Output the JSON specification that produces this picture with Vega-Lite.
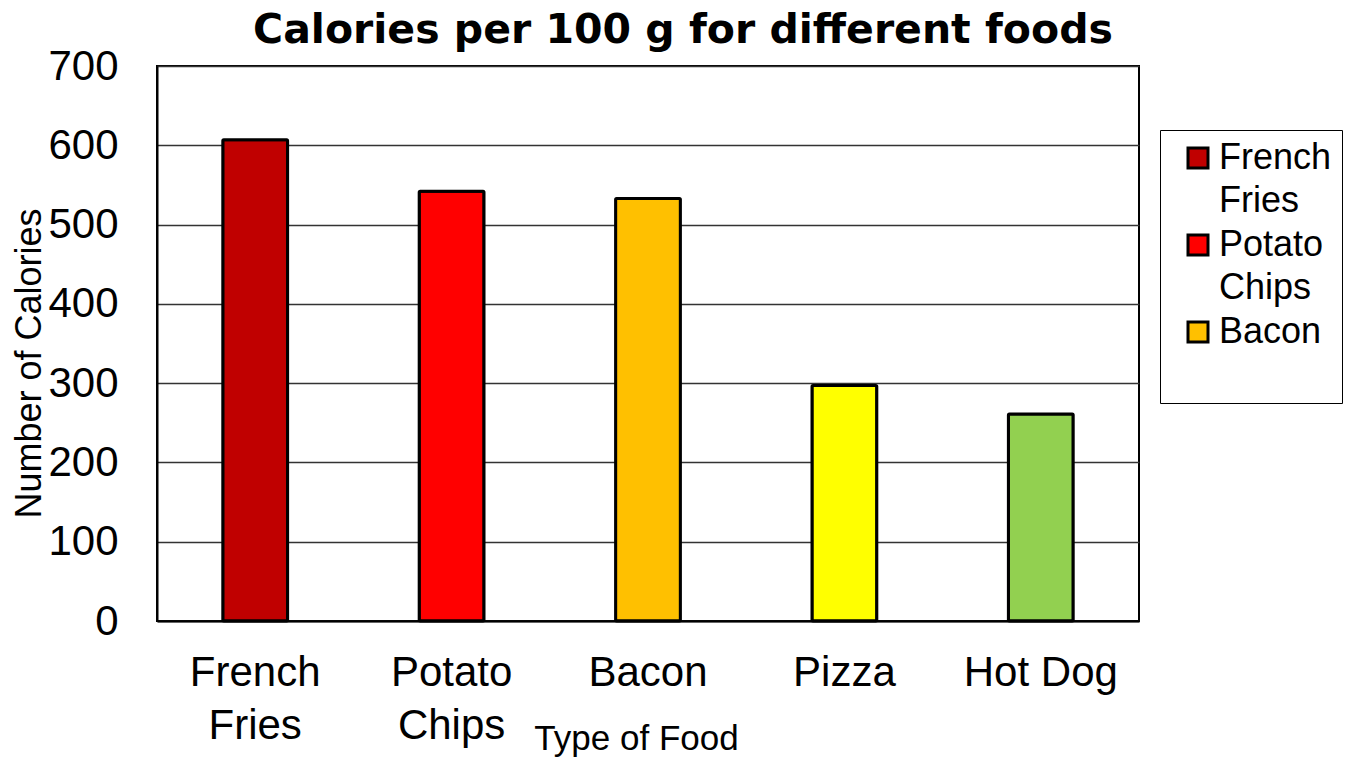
{
  "$schema": "https://vega.github.io/schema/vega-lite/v6.json",
  "autosize": "none",
  "width": 982,
  "height": 555,
  "padding": {"left": 157, "top": 66, "right": 222, "bottom": 136},
  "background": "white",
  "title": {
    "text": "Calories per 100 g for different foods",
    "font": "DejaVu Sans",
    "fontWeight": "bold",
    "fontSize": 41,
    "color": "black",
    "anchor": "middle",
    "baseline": "alphabetic",
    "offset": 0,
    "dy": 39,
    "dx": 35
  },
  "data": {
    "values": [
      {"food": "French Fries", "calories": 607},
      {"food": "Potato Chips", "calories": 542},
      {"food": "Bacon", "calories": 533},
      {"food": "Pizza", "calories": 297},
      {"food": "Hot Dog", "calories": 261}
    ]
  },
  "mark": {"type": "bar", "stroke": "black", "strokeWidth": 3, "cornerRadius": 1},
  "encoding": {
    "x": {
      "field": "food",
      "type": "nominal",
      "sort": null,
      "scale": {"paddingInner": 0.67, "paddingOuter": 0.335},
      "axis": {
        "title": "Type of Food",
        "titleFont": "Liberation Sans",
        "titleFontWeight": "normal",
        "titleFontSize": 35,
        "titleColor": "black",
        "titleX": 479,
        "titleY": 117,
        "titleAlign": "center",
        "titleBaseline": "middle",
        "labelFont": "Liberation Sans",
        "labelFontSize": 42,
        "labelColor": "black",
        "labelAngle": 0,
        "labelPadding": 31,
        "labelLineHeight": 53,
        "labelExpr": "datum.label == 'Hot Dog' ? datum.label : split(datum.label, ' ')",
        "ticks": false,
        "domainColor": "black",
        "domainWidth": 2
      }
    },
    "y": {
      "field": "calories",
      "type": "quantitative",
      "scale": {"domain": [0, 700]},
      "axis": {
        "title": "Number of Calories",
        "titleFont": "Liberation Sans",
        "titleFontWeight": "normal",
        "titleFontSize": 36,
        "titleColor": "black",
        "titleAngle": -90,
        "titleX": -128,
        "titleY": 297,
        "titleAlign": "center",
        "titleBaseline": "middle",
        "values": [0, 100, 200, 300, 400, 500, 600, 700],
        "labelFont": "Liberation Sans",
        "labelFontSize": 42,
        "labelColor": "black",
        "labelPadding": 39,
        "ticks": false,
        "grid": true,
        "gridColor": "#333333",
        "gridWidth": 1.5,
        "domainColor": "black",
        "domainWidth": 2
      }
    },
    "fill": {
      "field": "food",
      "type": "nominal",
      "sort": null,
      "scale": {
        "domain": ["French Fries", "Potato Chips", "Bacon", "Pizza", "Hot Dog"],
        "range": ["#C00000", "#FF0000", "#FFC000", "#FFFF00", "#92D050"]
      },
      "legend": {
        "title": null,
        "values": ["French Fries", "Potato Chips", "Bacon"],
        "orient": "none",
        "legendX": 1003,
        "legendY": 64,
        "padding": 10,
        "strokeColor": "black",
        "fillColor": "white",
        "symbolType": "square",
        "symbolSize": 400,
        "symbolOffset": 10,
        "symbolStrokeColor": "black",
        "symbolStrokeWidth": 3,
        "symbolOpacity": 1,
        "labelFont": "Liberation Sans",
        "labelFontSize": 36,
        "labelColor": "black",
        "labelOffset": 3,
        "labelLimit": 300,
        "labelExpr": "datum.label == 'Bacon' ? ['Bacon', ' '] : split(datum.label, ' ')",
        "rowPadding": 8
      }
    }
  },
  "config": {
    "view": {"stroke": "black", "strokeWidth": 2},
    "style": {"guide-label": {"lineHeight": 43}}
  }
}
